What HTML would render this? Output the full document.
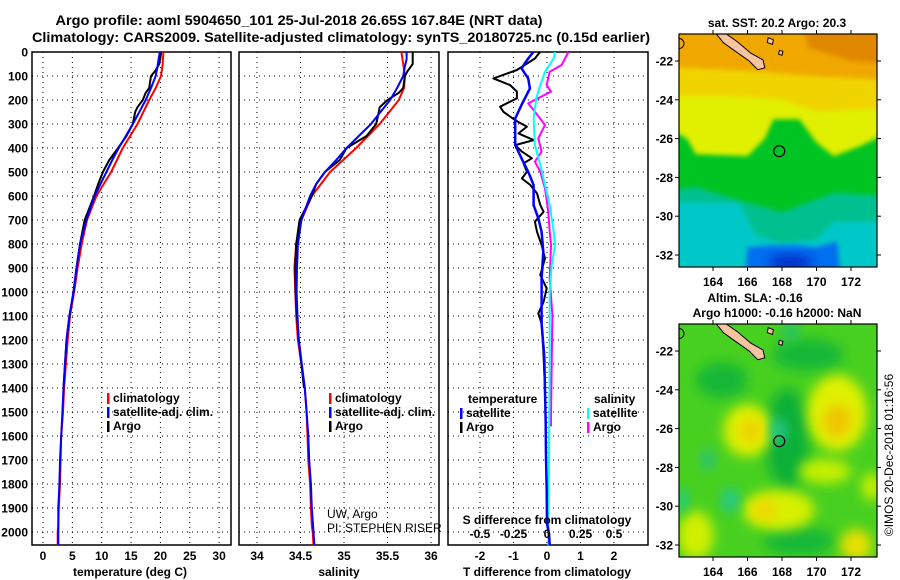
<!DOCTYPE html>
<html><head><meta charset="utf-8"><style>
html,body{margin:0;padding:0;background:#fff;}
svg{display:block;font-family:"Liberation Sans",Arial,sans-serif;}
</style></head><body>
<svg id="c" width="900" height="580" viewBox="0 0 900 580" xmlns="http://www.w3.org/2000/svg">
<defs>
<filter id="blur1" x="-10%" y="-10%" width="120%" height="120%"><feGaussianBlur stdDeviation="2.5"/></filter>
<filter id="blur2" x="-40%" y="-40%" width="180%" height="180%"><feGaussianBlur stdDeviation="6"/></filter>
<clipPath id="clipM1"><rect x="679" y="34" width="198" height="233"/></clipPath>
<clipPath id="clipM2"><rect x="679" y="324" width="198" height="233"/></clipPath>
</defs>
<text font-weight="bold" x="299" y="25" font-size="14" text-anchor="middle" textLength="487" lengthAdjust="spacingAndGlyphs">Argo profile: aoml 5904650_101 25-Jul-2018 26.65S 167.84E (NRT data)</text>
<text font-weight="bold" x="341" y="42" font-size="14" text-anchor="middle" textLength="618" lengthAdjust="spacingAndGlyphs">Climatology: CARS2009. Satellite-adjusted climatology: synTS_20180725.nc (0.15d earlier)</text>
<g id="plots"></g>
<g id="maps"></g>
</svg>
<script>
// ---------- DATA ----------
const depthTicks = [0,100,200,300,400,500,600,700,800,900,1000,1100,1200,1300,1400,1500,1600,1700,1800,1900,2000];
const tempTicks = [0,5,10,15,20,25,30];
const salTicks = [34,34.5,35,35.5,36];
const salTickLabels = ["34","34.5","35","35.5","36"];
const tdiffTicks = [-2,-1,0,1,2];
const sdiffTicks = [-0.5,-0.25,0,0.25,0.5];
const sdiffTickLabels = ["-0.5","-0.25","0","0.25","0.5"];

const climDepth = [0,50,100,150,200,300,400,500,600,700,800,900,1000,1100,1200,1400,1500,1600,1700,1800,1900,1975,2000,2055];
const climTemp  = [20.5,20.4,20.1,19.2,18.1,16.1,13.6,11.6,9.1,7.5,6.6,5.9,5.3,4.6,4.2,3.6,3.4,3.1,3.0,2.9,2.7,2.6,2.5,2.5];
const climSal   = [35.66,35.68,35.70,35.69,35.63,35.41,35.14,34.84,34.63,34.51,34.45,34.43,34.44,34.45,34.47,34.55,34.57,34.58,34.59,34.61,34.62,34.63,34.64,34.65];

const satDepth = [0,30,60,100,150,200,250,300,350,400,450,500,550,600,700,800,900,1000,1100,1200,1400,1500,1600,1700,1800,1900,2000,2055];
const satTemp  = [19.9,19.7,19.5,19.2,18.4,17.5,16.4,15.3,14.1,12.9,11.8,10.8,9.8,8.8,7.4,6.3,5.7,5.2,4.5,4.0,3.5,3.3,3.1,2.9,2.8,2.6,2.6,2.6];
const satSal   = [35.72,35.72,35.70,35.68,35.61,35.53,35.42,35.31,35.17,35.03,34.91,34.78,34.68,34.61,34.51,34.47,34.46,34.455,34.465,34.48,34.55,34.57,34.59,34.60,34.62,34.63,34.65,34.66];

const argoDepth = [0,25,50,80,100,150,170,200,230,250,300,350,400,450,500,550,600,700,800,900,1000,1100,1200,1400];
const argoTemp  = [20.1,20.0,19.8,19.1,18.4,18.1,17.5,17.0,16.1,15.7,15.3,14.2,12.8,11.3,10.2,9.4,8.7,7.1,6.3,5.7,5.2,4.5,4.0,3.5];
const argoSal   = [35.79,35.79,35.79,35.73,35.70,35.68,35.63,35.50,35.41,35.40,35.37,35.26,35.03,34.95,34.78,34.68,34.63,34.49,34.45,34.44,34.445,34.46,34.48,34.54];

const argoTdDepth = [0,27,75,110,138,165,193,228,249,284,311,339,367,388,415,443,464,499,527,554,589,638,666,707,749,804,860,929,985,1041,1089,1131,1242,1400];
const argoTdiff   = [-0.21,-0.36,-0.9,-1.6,-1.1,-0.9,-0.9,-1.4,-1.3,-0.95,-0.6,-0.85,-0.4,-0.95,-0.75,-0.45,-0.7,-0.6,-0.75,-0.5,-0.3,-0.2,-0.1,-0.36,-0.3,-0.16,-0.06,-0.2,-0.01,-0.1,-0.26,-0.16,-0.11,-0.06];
const satTdDepth = [0,27,68,110,152,193,221,277,332,388,443,499,554,638,693,749,832,943,1027,1131,1270,1409,1548,1687,1825,1964,2006,2055];
const satTdiff   = [-0.41,-0.56,-0.76,-0.56,-0.51,-0.66,-0.76,-0.95,-0.95,-0.95,-0.76,-0.56,-0.4,-0.4,-0.26,-0.16,-0.11,-0.16,-0.16,-0.16,-0.08,-0.06,-0.04,-0.03,-0.01,0.0,0.06,0.08];
const satSdDepth = [0,27,82,138,193,277,388,471,554,638,749,804,888,999,1300,1700,2055];
const satSdiff   = [0.06,0.05,-0.015,-0.05,-0.08,-0.1,-0.09,-0.05,-0.015,0.02,0.05,0.06,0.035,0.02,0.02,0.015,0.01];
const argoSdDepth = [0,54,82,138,165,214,249,304,360,415,457,499,568,666,749,804,943,1096,1300,1520,1560];
const argoSdiff   = [0.16,0.11,0.02,-0.003,0.03,-0.14,-0.09,-0.015,-0.065,-0.04,-0.09,-0.05,-0.015,0.01,0.02,0.03,0.02,0.04,0.035,0.03,0.03];

const lonTicks = [164,166,168,170,172];
const latTicks = [-22,-24,-26,-28,-30,-32];
const argoLon = 167.84, argoLat = -26.65;

// ---------- HELPERS ----------
const NS = "http://www.w3.org/2000/svg";
function mk(tag, attrs, parent, text){
  const e = document.createElementNS(NS, tag);
  for (const k in attrs) e.setAttribute(k, attrs[k]);
  if (text !== undefined) e.textContent = text;
  parent.appendChild(e);
  return e;
}
const TOP = 52, BOT = 545;
const yD = d => TOP + d*0.24;
const xT = t => 43 + t*5.87;
const xS = s => 257 + (s-34)*87;
const xTd = t => 547 + t*33.5;
const xSd = s => 547 + s*134;

const plots = document.getElementById('plots');

function panel(name, x0, x1, vx){
  const g = mk('g', {}, plots);
  
  
  depthTicks.forEach(d => {
    const ln = mk('line', {x1:x0, x2:x1, y1:yD(d), y2:yD(d), stroke:'#000', 'stroke-width':1, 'stroke-dasharray':'1 4'}, g);
    
    
  });
  vx.forEach(x => {
    const ln = mk('line', {x1:x, x2:x, y1:TOP, y2:BOT, stroke:'#000', 'stroke-width':1, 'stroke-dasharray':'1 4'}, g);
    
    
  });
  const r = mk('rect', {x:x0, y:TOP, width:x1-x0, height:BOT-TOP, fill:'none', stroke:'#000', 'stroke-width':1.5}, g);
  
  
  return g;
}
function line(g, name, depths, vals, fx, color, w){
  const pts = depths.map((d,i) => fx(vals[i]).toFixed(1)+','+yD(d).toFixed(1)).join(' ');
  const p = mk('polyline', {points:pts, fill:'none', stroke:color, 'stroke-width':w, 'stroke-linejoin':'round'}, g);
  
  
}
function txt(g, name, x, y, s, size, anchor, bold){
  const t = mk('text', {x:x, y:y, 'font-size':size, 'text-anchor':anchor||'start', 'font-weight':bold?'bold':'normal'}, g, s);
  
  
  return t;
}
function legend(g, x, y, color, label){
  const b = mk('rect', {x:x, y:y-9, width:2.5, height:11, fill:color}, g);
  
  
  txt(g, 'legend-entry', x+6, y, label, 12, 'start', true);
}

const ya = mk('g', {}, plots);


depthTicks.forEach(d => txt(ya, 'depth-tick-label', 28, yD(d)+4.5, String(d), 12, 'end', true));

// Panel 1: temperature
const p1 = panel('temperature-panel', 32, 231, tempTicks.map(xT));
line(p1, 'temp-climatology-line', climDepth, climTemp, xT, '#f00', 2);
line(p1, 'temp-argo-line', argoDepth, argoTemp, xT, '#000', 2);
line(p1, 'temp-satellite-line', satDepth, satTemp, xT, '#00f', 2);
tempTicks.forEach(t => txt(p1, 'temp-tick-label', xT(t), 560, String(t), 12, 'middle', true));
txt(p1, 'x-axis-title-temperature', 130, 576, 'temperature (deg C)', 12, 'middle', true);
legend(p1, 107, 402, '#f00', 'climatology');
legend(p1, 107, 416, '#00f', 'satellite-adj. clim.');
legend(p1, 107, 430, '#000', 'Argo');

// Panel 2: salinity
const p2 = panel('salinity-panel', 239, 439, salTicks.map(xS));
line(p2, 'sal-climatology-line', climDepth, climSal, xS, '#f00', 2);
line(p2, 'sal-argo-line', argoDepth, argoSal, xS, '#000', 2);
line(p2, 'sal-satellite-line', satDepth, satSal, xS, '#00f', 2);
salTicks.forEach((s,i) => txt(p2, 'sal-tick-label', xS(s), 560, salTickLabels[i], 12, 'middle', true));
txt(p2, 'x-axis-title-salinity', 339, 576, 'salinity', 12, 'middle', true);
legend(p2, 329, 402, '#f00', 'climatology');
legend(p2, 329, 416, '#00f', 'satellite-adj. clim.');
legend(p2, 329, 430, '#000', 'Argo');
txt(p2, 'institution-label', 327, 518, 'UW, Argo', 12, 'start', false);
txt(p2, 'pi-label', 327, 532, 'PI: STEPHEN RISER', 12, 'start', false);

// Panel 3: differences
const p3 = panel('difference-panel', 448, 648, tdiffTicks.map(xTd));
line(p3, 'argo-tdiff-line', argoTdDepth, argoTdiff, xTd, '#000', 2);
line(p3, 'argo-sdiff-line', argoSdDepth, argoSdiff, xSd, '#f0f', 2);
line(p3, 'sat-sdiff-line', satSdDepth, satSdiff, xSd, '#0ff', 2);
line(p3, 'sat-tdiff-line', satTdDepth, satTdiff, xTd, '#00f', 2.5);
tdiffTicks.forEach(t => txt(p3, 'tdiff-tick-label', xTd(t), 560, String(t), 12, 'middle', true));
txt(p3, 'x-axis-title-tdiff', 547, 576, 'T difference from climatology', 12, 'middle', true);
txt(p3, 'x-axis-title-sdiff', 547, 524, 'S difference from climatology', 12, 'middle', true);
sdiffTicks.forEach((s,i) => txt(p3, 'sdiff-tick-label', xSd(s), 538, sdiffTickLabels[i], 12, 'middle', true));
txt(p3, 'legend-title-temperature', 468, 403, 'temperature', 12, 'start', true);
legend(p3, 460, 417, '#00f', 'satellite');
legend(p3, 460, 431, '#000', 'Argo');
txt(p3, 'legend-title-salinity', 594, 403, 'salinity', 12, 'start', true);
legend(p3, 587, 417, '#0ff', 'satellite');
legend(p3, 587, 431, '#f0f', 'Argo');

// ---------- MAPS ----------
const maps = document.getElementById('maps');
function mapPanel(name, y0, clip){
  const lx = lon => 713 + (lon-164)*17.25;
  const ly = lat => y0 + 27 + (-22-lat)*19.4;
  const g = mk('g', {}, maps);
  
  
  const inner = mk('g', {'clip-path':'url(#'+clip+')'}, g);
  return {g, inner, lx, ly, y0};
}
function poly(m, pts, fill, filt, name){
  const s = pts.map(p => m.lx(p[0]).toFixed(1)+','+m.ly(p[1]).toFixed(1)).join(' ');
  const e = mk('polygon', {points:s, fill:fill}, m.inner);
  if (filt) e.setAttribute('filter', 'url(#'+filt+')');
  
  
  return e;
}
function blob(m, lon, lat, rx, ry, fill, name){
  const e = mk('ellipse', {cx:m.lx(lon), cy:m.ly(lat), rx:rx, ry:ry, fill:fill, filter:'url(#blur2)'}, m.inner);
  
  
}
function mapFrame(m){
  const y0 = m.y0;
  const r = mk('rect', {x:679, y:y0, width:198, height:233, fill:'none', stroke:'#000', 'stroke-width':1.2}, m.g);
  
  
  lonTicks.forEach(l => {
    const x = m.lx(l);
    mk('line', {x1:x, x2:x, y1:y0, y2:y0-4, stroke:'#000'}, m.g);
    mk('line', {x1:x, x2:x, y1:y0+233, y2:y0+237, stroke:'#000'}, m.g);
    txt(m.g, 'lon-tick-label', x, y0+252, String(l), 12, 'middle', true);
  });
  latTicks.forEach(l => {
    const y = m.ly(l);
    mk('line', {x1:679, x2:675, y1:y, y2:y, stroke:'#000'}, m.g);
    mk('line', {x1:877, x2:881, y1:y, y2:y, stroke:'#000'}, m.g);
    txt(m.g, 'lat-tick-label', 673, y+4.5, String(l), 12, 'end', true);
  });
}
function land(m){
  poly(m, [[164.1,-20.5],[164.6,-20.5],[165.4,-21.0],[166.2,-21.6],[166.9,-21.95],[167.0,-22.35],[166.6,-22.45],[166.1,-22.0],[165.3,-21.5],[164.6,-21.05]], '#f8c4a0', null, 'new-caledonia').setAttribute('stroke','#000');
  poly(m, [[167.2,-20.8],[167.5,-20.9],[167.45,-21.15],[167.15,-21.05]], '#f8c4a0', null, 'lifou-island').setAttribute('stroke','#000');
  poly(m, [[167.85,-21.45],[168.05,-21.5],[168.0,-21.7],[167.8,-21.65]], '#f8c4a0', null, 'mare-island').setAttribute('stroke','#000');
  const c = mk('circle', {cx:m.lx(argoLon), cy:m.ly(argoLat), r:5.5, fill:'none', stroke:'#000', 'stroke-width':1.2}, m.inner);
  
  
  const c2 = mk('circle', {cx:679, cy:m.ly(-21.1), r:5, fill:'none', stroke:'#000'}, m.inner);
  
  
}

// Map 1: SST
const m1 = mapPanel('sst-map', 34, 'clipM1');
poly(m1, [[161,-19],[175,-19],[175,-34],[161,-34]], '#00c090', null, 'sst-base');
poly(m1, [[161,-29.3],[165.5,-29.3],[166.5,-31.0],[168,-31.4],[170,-31.2],[171,-30.3],[175,-30.3],[175,-34],[161,-34]], '#00c8c8', 'blur1', 'sst-cyan');
poly(m1, [[161,-19],[175,-19],[175,-29],[171,-28.8],[168,-29.8],[166,-29.3],[163,-28.5],[161,-28.7]], '#00c420', 'blur1', 'sst-green');
poly(m1, [[161,-19],[175,-19],[175,-25.3],[172.5,-26.4],[171,-26.9],[170,-26.2],[169,-25.0],[167.5,-25.0],[167,-26.0],[166,-26.9],[163,-26.8],[162.5,-26.0],[161,-25.3]], '#e0f000', 'blur1', 'sst-yellow');
poly(m1, [[161,-19],[175,-19],[175,-24.4],[170,-24.6],[168,-24.0],[165,-23.8],[161,-23.8]], '#f0d400', 'blur1', 'sst-light-orange');
poly(m1, [[161,-19],[175,-19],[175,-23.0],[170,-22.8],[166,-22.5],[161,-22.3]], '#f0a800', 'blur1', 'sst-orange');
poly(m1, [[169,-19],[175,-19],[175,-22.2],[172,-22.0],[169.5,-21.3]], '#e08800', 'blur1', 'sst-dark-orange');
poly(m1, [[165.8,-34],[166,-31.6],[167.5,-31.5],[169,-31.5],[170,-31.6],[171.2,-31.3],[171.5,-34]], '#0070f0', 'blur1', 'sst-blue');
blob(m1, 168.5, -32.4, 22, 7, '#0020c0', 'sst-dark-blue');
land(m1);
mapFrame(m1);
txt(m1.g, 'sst-map-title', 777, 27, 'sat. SST: 20.2 Argo: 20.3', 12, 'middle', true);

// Map 2: SLA
const m2 = mapPanel('sla-map', 324, 'clipM2');
poly(m2, [[161,-19],[175,-19],[175,-34],[161,-34]], '#48d020', null, 'sla-base');
blob(m2, 168.3, -26.5, 22, 50, '#10b038', 'sla-dark-band');
blob(m2, 164.5, -23.5, 26, 18, '#18b838', 'sla-dark-west');
blob(m2, 169.5, -22.2, 36, 16, '#18b838', 'sla-dark-north');
blob(m2, 169, -31.8, 36, 14, '#18b838', 'sla-dark-south');
blob(m2, 166.0, -26.1, 24, 26, '#e0f000', 'sla-yellow-1');
blob(m2, 166.2, -26.1, 11, 12, '#f0d000', 'sla-yellow-1-core');
blob(m2, 171.2, -25.2, 30, 38, '#e0f000', 'sla-yellow-2');
blob(m2, 171.2, -25.6, 14, 16, '#f0c400', 'sla-yellow-2-core');
blob(m2, 167.8, -30.2, 36, 20, '#d8f000', 'sla-yellow-3');
blob(m2, 167.0, -30.2, 12, 10, '#f0d400', 'sla-yellow-3-core');
blob(m2, 172.3, -32.0, 16, 16, '#e8e000', 'sla-yellow-4');
blob(m2, 163.0, -31.5, 18, 24, '#d0f000', 'sla-yellow-5');
blob(m2, 170.5, -28.2, 26, 12, '#c8f000', 'sla-yellow-6');
blob(m2, 173.2, -29.0, 10, 14, '#c8f000', 'sla-yellow-7');
blob(m2, 167.8, -26.1, 8, 12, '#20c890', 'sla-teal-1');
blob(m2, 165.0, -29.7, 9, 12, '#20c890', 'sla-teal-2');
blob(m2, 163.7, -27.6, 7, 10, '#28c080', 'sla-teal-3');
blob(m2, 162.2, -29.7, 6, 12, '#20c890', 'sla-teal-4');
blob(m2, 168.5, -21.0, 8, 10, '#28c070', 'sla-teal-5');
land(m2);
mapFrame(m2);
txt(m2.g, 'sla-map-title', 755, 302, 'Altim. SLA: -0.16', 12, 'middle', true);
txt(m2.g, 'sla-map-subtitle', 777, 317, 'Argo h1000: -0.16 h2000: NaN', 12, 'middle', true);
const cr = txt(maps, 'copyright-timestamp', 0, 0, '\u00A9IMOS 20-Dec-2018 01:16:56', 12, 'middle', false);
cr.setAttribute('transform', 'translate(893,455) rotate(-90)');
</script>
</body></html>
